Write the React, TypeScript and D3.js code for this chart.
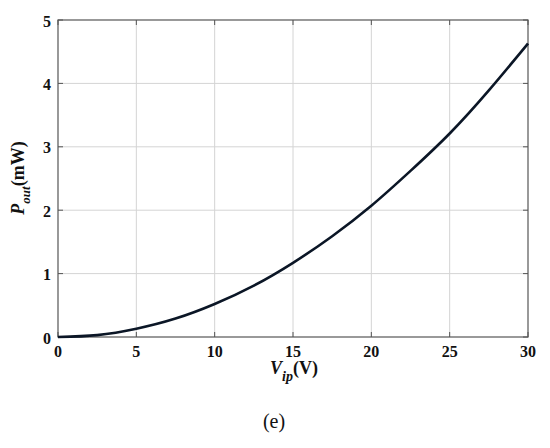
import React from "react";
import * as d3 from "d3";

const voltages = [0, 2.5, 5, 7.5, 10, 12.5, 15, 17.5, 20, 22.5, 25, 27.5, 30];
const powers = [0, 0.03, 0.13, 0.29, 0.52, 0.81, 1.17, 1.59, 2.07, 2.62, 3.21, 3.89, 4.63];
const xTicks = [0, 5, 10, 15, 20, 25, 30];
const yTicks = [0, 1, 2, 3, 4, 5];

const W = 550, H = 448;
const m = { left: 58, right: 22, top: 20, bottom: 111 };

export default function App() {
  const x = d3.scaleLinear().domain([0, 30]).range([m.left, W - m.right]);
  const y = d3.scaleLinear().domain([0, 5]).range([H - m.bottom, m.top]);
  const pts = voltages.map((v, i) => [v, powers[i]] as [number, number]);
  const line = d3.line<[number, number]>().x(d => x(d[0])).y(d => y(d[1])).curve(d3.curveNatural);
  const x0 = x(0), x1 = x(30), y0 = y(0), y1 = y(5);
  const font = "Liberation Serif";
  return (
    <svg width={W} height={H} style={{ position: "absolute", left: 0, top: 0, background: "#fff" }}>
      {xTicks.slice(1, -1).map(t => (
        <line key={"gx" + t} x1={x(t)} x2={x(t)} y1={y0} y2={y1} stroke="#d4d4d4" strokeWidth={1} />
      ))}
      {yTicks.slice(1, -1).map(t => (
        <line key={"gy" + t} x1={x0} x2={x1} y1={y(t)} y2={y(t)} stroke="#d4d4d4" strokeWidth={1} />
      ))}
      {xTicks.map(t => (
        <g key={"tx" + t}>
          <line x1={x(t)} x2={x(t)} y1={y0} y2={y0 - 5} stroke="#555" />
          <line x1={x(t)} x2={x(t)} y1={y1} y2={y1 + 5} stroke="#555" />
          <text x={x(t)} y={y0 + 20} textAnchor="middle" fontFamily={font} fontWeight="bold" fontSize={16} fill="#111">{t}</text>
        </g>
      ))}
      {yTicks.map(t => (
        <g key={"ty" + t}>
          <line x1={x0} x2={x0 + 5} y1={y(t)} y2={y(t)} stroke="#555" />
          <line x1={x1} x2={x1 - 5} y1={y(t)} y2={y(t)} stroke="#555" />
          <text x={x0 - 7} y={y(t) + 6.5} textAnchor="end" fontFamily={font} fontWeight="bold" fontSize={16} fill="#111">{t}</text>
        </g>
      ))}
      <rect x={x0} y={y1} width={x1 - x0} height={y0 - y1} fill="none" stroke="#555" strokeWidth={1.2} />
      <path d={line(pts) || ""} fill="none" stroke="#0b1626" strokeWidth={2.6} />
      <text x={294} y={374} textAnchor="middle" fontFamily={font} fontWeight="bold" fontSize={18} fill="#111">
        <tspan fontStyle="italic">V</tspan>
        <tspan fontStyle="italic" fontSize={14} dy={7}>ip</tspan>
        <tspan dy={-7}>(V)</tspan>
      </text>
      <text transform="translate(24,178) rotate(-90)" textAnchor="middle" fontFamily={font} fontWeight="bold" fontSize={18} fill="#111">
        <tspan fontStyle="italic">P</tspan>
        <tspan fontStyle="italic" fontSize={13} dy={6}>out</tspan>
        <tspan dy={-6}>(mW)</tspan>
      </text>
      <text x={274} y={428} textAnchor="middle" fontFamily={font} fontSize={20} fill="#111">(e)</text>
    </svg>
  );
}
